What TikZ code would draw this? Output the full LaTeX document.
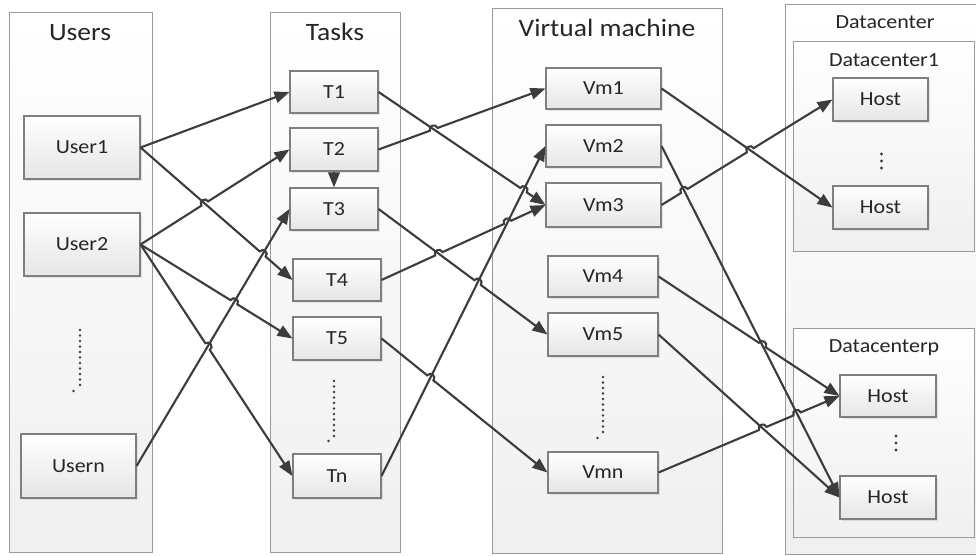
\documentclass[tikz,border=0pt]{standalone}
\usepackage{fontspec}
\setmainfont{Carlito}[FakeStretch=1.1]
\usetikzlibrary{arrows.meta,calc,intersections,shadows}
\definecolor{linec}{HTML}{3C3C3C}
\definecolor{boxline}{HTML}{7F7F7F}
\definecolor{contline}{HTML}{9A9A9A}
\definecolor{textc}{HTML}{262626}
\newcommand\hopone[3]{\draw[conn] (#1) -- ($(#3)!4pt!(#1)$) to[hop] ($(#3)!4pt!(#2)$) -- (#2);}
\newcommand\hoptwo[4]{\draw[conn] (#1) -- ($(#3)!4pt!(#1)$) to[hop] ($(#3)!4pt!(#2)$) -- ($(#4)!4pt!(#1)$) to[hop] ($(#4)!4pt!(#2)$) -- (#2);}
\begin{document}
\begin{tikzpicture}[x=1pt,y=-1pt,
  container/.style={draw=contline, line width=1pt, top color=white, bottom color=gray!12},
  box/.style={draw=boxline, line width=1.1pt, top color=white, bottom color=gray!20, inner sep=0pt,
    text=textc, font=\fontsize{20}{24}\selectfont,
    drop shadow={shadow xshift=2pt, shadow yshift=-2pt, opacity=0.18, fill=gray}},
  ttl/.style={text=textc, font=\fontsize{25}{30}\selectfont, inner sep=0pt, anchor=base},
  subttl/.style={text=textc, font=\fontsize{20}{24}\selectfont, inner sep=0pt, anchor=base},
  conn/.style={draw=linec, line width=2.1pt, -{Triangle[length=15pt,width=11.5pt]}},
  hop/.style={bend left=90, looseness=1.7},
  dotcol/.style={draw=linec, line width=2.6pt, line cap=round, dash pattern=on 0pt off 5.5pt},
  smalldot/.style={fill=linec},
]
\useasboundingbox (0,0) rectangle (976,556);
% containers
\path[container] (9,13) rectangle (152,552);
\path[container] (270,13) rectangle (400,552);
\path[container] (492,9) rectangle (722,553);
\path[container] (785,5) rectangle (978,554);
\path[container] (793,42) rectangle (974.5,251);
\path[container] (793,328) rectangle (974.5,537);
% titles
\node[ttl] (tusers) at (80,41) {Users};
\node[ttl] (ttasks) at (335,41) {Tasks};
\node[ttl] (tvm) at (607,36.5) {Virtual machine};
\node[subttl] (tdc) at (885,28.5) {Datacenter};
\node[subttl] (tdc1) at (884,66.5) {Datacenter1};
\node[subttl] (tdcp) at (884,352) {Datacenterp};
% users
\node[box, minimum width=116pt, minimum height=63pt] (U1) at (82,147.5) {User1};
\node[box, minimum width=116pt, minimum height=63pt] (U2) at (82,244.5) {User2};
\node[box, minimum width=115pt, minimum height=64pt] (Un) at (78.5,466) {Usern};
% tasks
\node[box, minimum width=88pt, minimum height=42pt] (T1) at (334,92) {T1};
\node[box, minimum width=88pt, minimum height=43pt] (T2) at (334,149.5) {T2};
\node[box, minimum width=88pt, minimum height=42pt] (T3) at (334,209) {T3};
\node[box, minimum width=88pt, minimum height=42pt] (T4) at (337,280) {T4};
\node[box, minimum width=88pt, minimum height=43pt] (T5) at (337,338.5) {T5};
\node[box, minimum width=88pt, minimum height=44pt] (Tn) at (337,476) {Tn};
% vms
\node[box, minimum width=115pt, minimum height=41pt] (V1) at (603.5,88.5) {Vm1};
\node[box, minimum width=115pt, minimum height=42pt] (V2) at (603.5,146) {Vm2};
\node[box, minimum width=115pt, minimum height=44pt] (V3) at (603.5,205) {Vm3};
\node[box, minimum width=110pt, minimum height=41pt] (V4) at (603,276.5) {Vm4};
\node[box, minimum width=110pt, minimum height=43pt] (V5) at (603,334.5) {Vm5};
\node[box, minimum width=110pt, minimum height=41pt] (Vn) at (603,472.5) {Vmn};
% hosts
\node[box, minimum width=95pt, minimum height=43pt] (H1) at (880.5,99.5) {Host};
\node[box, minimum width=95pt, minimum height=43pt] (H2) at (880.5,207.5) {Host};
\node[box, minimum width=96pt, minimum height=42pt] (H3) at (888,396) {Host};
\node[box, minimum width=96pt, minimum height=43pt] (H4) at (888,497.5) {Host};
% dots
\draw[dotcol] (80,330) -- (80,386);
\fill[smalldot] (73.5,391) circle (1.4);
\draw[dotcol] (334,381) -- (334,436);
\fill[smalldot] (328.5,441) circle (1.4);
\draw[dotcol] (603,377) -- (603,433);
\fill[smalldot] (597.5,438) circle (1.4);
\foreach \yy in {154,161,168} \fill[smalldot] (881.5,\yy) circle (1.6);
\foreach \yy in {436,443,450} \fill[smalldot] (896,\yy) circle (1.6);
% named paths for crossings
\path[name path=pb] (U1.east) -- (T4.west);
\path[name path=pc] (U2.east) -- (T2.west);
\path[name path=pd] (U2.east) -- (T5.west);
\path[name path=pe] (U2.east) -- (Tn.west);
\path[name path=pf] (Un.east) -- (T3.west);
\path[name path=pg] (T1.east) -- (V3.west);
\path[name path=ph] (T2.east) -- (V1.west);
\path[name path=pi] (T3.east) -- (V5.west);
\path[name path=pj] (T4.east) -- (V3.west);
\path[name path=pk] (T5.east) -- (Vn.west);
\path[name path=pl] (Tn.east) -- (V2.west);
\path[name path=pm] (V1.east) -- (H2.west);
\path[name path=pn] (V2.east) -- (H4.west);
\path[name path=po] (V3.east) -- (H1.west);
\path[name path=pp] (V4.east) -- (H3.west);
\path[name path=pq] (V5.east) -- (H4.west);
\path[name path=pr] (Vn.east) -- (H3.west);
\path[name intersections={of=pb and pc, by=Xbc}];
\path[name intersections={of=pb and pf, by=Xbf}];
\path[name intersections={of=pd and pf, by=Xdf}];
\path[name intersections={of=pe and pf, by=Xef}];
\path[name intersections={of=pg and ph, by=Xgh}];
\path[name intersections={of=pg and pl, by=Xgl}];
\path[name intersections={of=pi and pj, by=Xij}];
\path[name intersections={of=pj and pl, by=Xjl}];
\path[name intersections={of=pi and pl, by=Xil}];
\path[name intersections={of=pk and pl, by=Xkl}];
\path[name intersections={of=pm and po, by=Xmo}];
\path[name intersections={of=pn and po, by=Xno}];
\path[name intersections={of=pn and pp, by=Xnp}];
\path[name intersections={of=pq and pr, by=Xqr}];
\path[name intersections={of=pn and pr, by=Xnr}];
% users -> tasks
\draw[conn] (U1.east) -- (T1.west);
\hopone{U1.east}{T4.west}{Xbf}
\hopone{U2.east}{T2.west}{Xbc}
\hopone{U2.east}{T5.west}{Xdf}
\hopone{U2.east}{Tn.west}{Xef}
\draw[conn] (Un.east) -- (T3.west);
\draw[conn] (T2.south) -- (T3.north);
% tasks -> vms
\hopone{T1.east}{V3.west}{Xgl}
\hopone{T2.east}{V1.west}{Xgh}
\hopone{T3.east}{V5.west}{Xil}
\hoptwo{T4.east}{V3.west}{Xij}{Xjl}
\hopone{T5.east}{Vn.west}{Xkl}
\draw[conn] (Tn.east) -- (V2.west);
% vms -> hosts
\draw[conn] (V1.east) -- (H2.west);
\draw[conn] (V2.east) -- (H4.west);
\hoptwo{V3.east}{H1.west}{Xno}{Xmo}
\hopone{V4.east}{H3.west}{Xnp}
\draw[conn] (V5.east) -- (H4.west);
\hoptwo{Vn.east}{H3.west}{Xqr}{Xnr}
\end{tikzpicture}
\end{document}
